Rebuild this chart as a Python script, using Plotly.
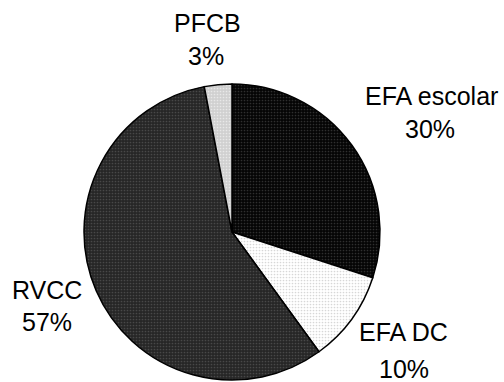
import plotly.graph_objects as go

labels = ["EFA escolar", "EFA DC", "RVCC", "PFCB"]
values = [30, 10, 57, 3]
pct_text = ["30%", "10%", "57%", "3%"]

bg_colors = ["#050505", "#ffffff", "#262626", "#d0d0d0"]
fg_colors = ["#5a5a5a", "#b0b0b0", "#6a6a6a", "#ffffff"]

fig = go.Figure(go.Pie(
    labels=labels,
    values=values,
    sort=False,
    direction="clockwise",
    rotation=0,
    textinfo="none",
    hoverinfo="label+percent",
    showlegend=False,
    marker=dict(
        colors=bg_colors,
        line=dict(color="#000000", width=1.5),
        pattern=dict(shape=".", bgcolor=bg_colors, fgcolor=fg_colors,
                     size=3, solidity=0.25, fillmode="overlay"),
    ),
    domain=dict(x=[84/504, 380/504], y=[2/382, 298/382]),
))

# label positions (pixel centres) for name line and percent line
label_pos = [(431, 96, 430, 129), (403, 332, 404, 369), (47, 290, 47, 322), (207, 23, 206, 56)]
annotations = []
for lab, pct, (x1, y1, x2, y2) in zip(labels, pct_text, label_pos):
    annotations.append(dict(text=lab, x=x1/504, y=1-y1/382, xref="paper", yref="paper",
                            showarrow=False, xanchor="center", yanchor="middle"))
    annotations.append(dict(text=pct, x=x2/504, y=1-y2/382, xref="paper", yref="paper",
                            showarrow=False, xanchor="center", yanchor="middle"))

fig.update_layout(
    width=504, height=382,
    margin=dict(l=0, r=0, t=0, b=0),
    paper_bgcolor="white", plot_bgcolor="white",
    font=dict(family="Liberation Sans, Arial, sans-serif", size=25, color="#000000"),
    annotations=annotations,
)

fig.write_html("out.html")
